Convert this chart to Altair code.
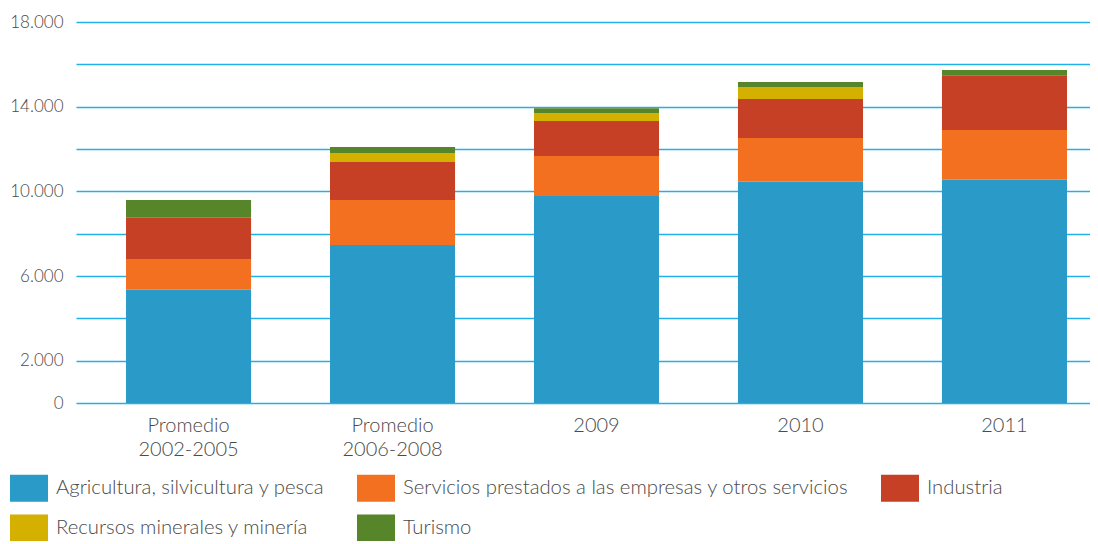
import altair as alt
import pandas as pd

categories = ["Promedio 2002-2005", "Promedio 2006-2008", "2009", "2010", "2011"]
series = [
    "Agricultura, silvicultura y pesca",
    "Servicios prestados a las empresas y otros servicios",
    "Industria",
    "Recursos minerales y minería",
    "Turismo",
]
colors = ["#2A9BC8", "#F37021", "#C64025", "#D4B000", "#57852A"]

agricultura = [5350, 7460, 9780, 10450, 10550]
servicios = [1450, 2130, 1890, 2070, 2350]
industria = [1950, 1790, 1650, 1840, 2590]
mineria = [0, 430, 380, 570, 0]
turismo = [840, 280, 230, 230, 240]

values = [agricultura, servicios, industria, mineria, turismo]
rows = []
for si, (s, vals) in enumerate(zip(series, values)):
    for c, v in zip(categories, vals):
        rows.append({"cat": c, "serie": s, "valor": v, "orden": si})
df = pd.DataFrame(rows)

font = "Lato"
txt = "#4a4a4a"

label_expr = ("indexof([0, 2000, 6000, 10000, 14000, 18000], datum.value) >= 0 ? "
              "replace(format(datum.value, ',d'), ',', '.') : ''")

chart = alt.Chart(df).mark_bar().encode(
    x=alt.X("cat:N", sort=categories, title=None,
            scale=alt.Scale(paddingInner=0.387, paddingOuter=0.179, align=0.685),
            axis=alt.Axis(labelAngle=0, labelExpr="split(datum.label, ' ')",
                          labelLineHeight=24, labelPadding=12, ticks=False,
                          domain=False, labelFontSize=20, labelFont=font,
                          labelFontWeight=300, labelColor=txt)),
    y=alt.Y("valor:Q", stack="zero", title=None,
            scale=alt.Scale(domain=[0, 18000], nice=False),
            axis=alt.Axis(values=list(range(0, 18001, 2000)), labelExpr=label_expr,
                          grid=True, gridColor="#22B0E8", gridWidth=1.6,
                          ticks=False, domain=False, labelPadding=13,
                          labelFontSize=17, labelFont=font, labelFontWeight=300,
                          labelColor=txt)),
    color=alt.Color("serie:N", sort=series,
                    scale=alt.Scale(domain=series, range=colors),
                    legend=alt.Legend(title=None, orient="none", legendX=-66, legendY=447,
                                      direction="horizontal",
                                      columns=3, columnPadding=32, rowPadding=7,
                                      symbolType="M-1,-0.71H1V0.71H-1Z", symbolSize=1444,
                                      symbolStrokeWidth=0, symbolOpacity=1,
                                      labelFontSize=20.3, labelFont=font, labelFontWeight=300,
                                      labelColor=txt, labelLimit=700, labelOffset=8,
                                      labelBaseline="middle")),
    order=alt.Order("orden:Q", sort="ascending"),
).properties(
    width=1014, height=381,
    autosize=alt.AutoSizeParams(type="none"),
    padding={"left": 68, "top": 14, "right": 0, "bottom": 138},
).configure_view(stroke=None)

chart.save("out.html", embed_options={"renderer": "svg", "actions": False})
